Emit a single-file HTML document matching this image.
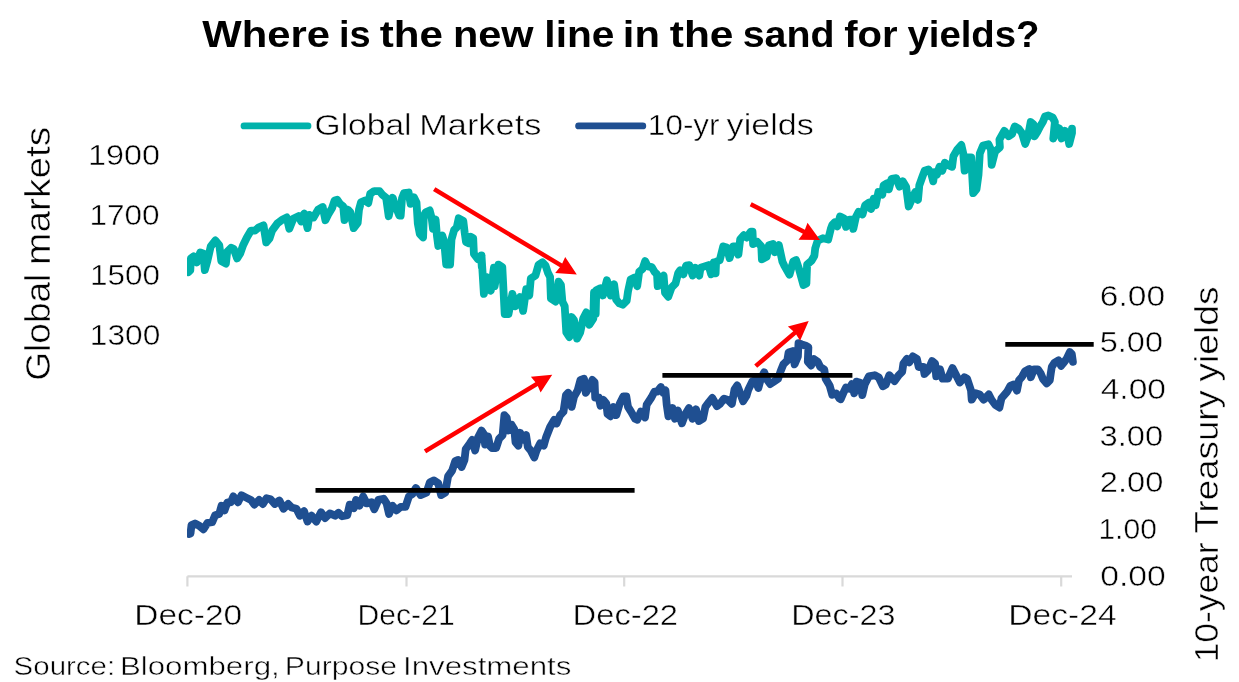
<!DOCTYPE html>
<html><head><meta charset="utf-8"><title>Where is the new line in the sand for yields?</title>
<style>html,body{margin:0;padding:0;background:#fff;}svg{display:block;} .r{stroke:#fff;stroke-width:0.5px;}</style></head>
<body><svg width="1239" height="682" viewBox="0 0 1239 682" font-family='"Liberation Sans", "DejaVu Sans", sans-serif' fill="#000">
<rect width="1239" height="682" fill="#fff"/>
<line x1="187.4" y1="576.3" x2="1072" y2="576.3" stroke="#D9D9D9" stroke-width="2.2"/><line x1="187.4" y1="576.3" x2="187.4" y2="586.5" stroke="#D9D9D9" stroke-width="2.2"/><line x1="406.5" y1="576.3" x2="406.5" y2="586.5" stroke="#D9D9D9" stroke-width="2.2"/><line x1="624.2" y1="576.3" x2="624.2" y2="586.5" stroke="#D9D9D9" stroke-width="2.2"/><line x1="842.5" y1="576.3" x2="842.5" y2="586.5" stroke="#D9D9D9" stroke-width="2.2"/><line x1="1061.2" y1="576.3" x2="1061.2" y2="586.5" stroke="#D9D9D9" stroke-width="2.2"/>
<clipPath id="pc"><rect x="187" y="0" width="900" height="600"/></clipPath><g clip-path="url(#pc)"><polyline points="188.3,272.2 190.3,270.2 190.9,258.4 193.6,256.4 196.9,262.3 200.2,252.4 203.5,253.7 204.8,270.2 207.4,261.0 210.7,246.5 215.4,240.5 219.3,245.2 221.3,261.0 225.9,263.6 227.2,251.8 231.2,247.8 233.8,249.1 237.1,258.4 240.4,253.1 243.1,245.2 247.0,237.2 251.0,230.6 255.0,230.6 258.9,227.3 263.5,225.4 266.2,242.5 269.5,238.6 272.1,230.6 277.4,223.4 282.7,219.4 286.7,217.4 289.3,228.7 293.3,218.8 298.5,216.1 301.2,221.4 303.8,214.1 304.2,213.6 307.5,228.1 309.5,214.9 313.5,217.5 318.1,209.6 322.7,207.0 325.4,220.2 328.7,213.6 332.0,208.3 334.6,200.4 337.2,199.7 339.9,203.7 343.2,206.3 344.5,220.2 347.8,209.6 350.4,212.2 353.7,228.1 357.7,222.8 359.0,209.6 361.0,202.3 365.0,200.4 368.3,203.0 370.2,193.8 374.2,191.1 379.5,191.1 382.1,194.4 386.1,197.7 388.7,216.2 392.7,197.7 395.3,205.6 399.3,215.5 400.7,215.6 402.0,198.5 404.0,193.2 408.6,192.5 410.6,203.8 413.9,197.2 416.5,202.4 417.8,223.5 419.8,234.1 423.1,237.4 423.8,215.6 425.7,212.3 429.7,210.4 431.7,218.3 433.0,228.8 435.6,219.6 436.9,235.4 438.3,246.0 442.2,235.4 444.2,242.0 446.2,264.5 450.1,264.5 451.5,239.4 454.1,230.1 456.7,227.5 458.7,218.3 463.3,220.9 464.7,232.8 466.0,242.0 468.6,243.3 470.6,236.7 473.2,238.1 473.9,253.9 477.9,259.2 481.2,257.9 481.8,267.1 481.5,255.4 483.9,293.9 486.9,277.0 490.8,290.8 493.9,267.7 494.6,286.2 498.5,264.7 502.3,267.0 504.7,314.0 508.5,314.0 512.4,293.9 515.4,306.3 520.1,297.0 523.1,310.9 526.2,289.3 529.3,295.5 530.8,278.5 535.5,275.4 538.6,264.7 542.4,262.3 545.5,265.4 547.8,272.4 550.1,277.0 550.9,298.6 555.5,301.6 558.6,281.6 560.9,284.7 562.4,301.6 564.7,306.3 566.3,332.4 569.4,337.1 571.7,317.0 574.0,320.1 577.1,338.6 580.2,332.4 583.2,318.6 586.3,312.4 589.4,324.7 593.3,318.6 594.0,292.4 595.7,313.9 596.3,290.2 600.3,288.2 602.9,295.4 606.9,280.3 610.8,295.4 614.1,284.2 616.1,299.4 619.4,303.4 622.7,304.7 626.7,300.7 628.0,291.5 630.6,279.6 634.6,277.6 637.2,286.2 639.2,271.7 642.5,269.0 645.2,261.1 647.8,266.4 651.8,267.1 654.4,271.7 657.0,274.3 657.7,286.2 661.0,278.3 663.6,275.6 665.0,292.8 668.3,296.8 671.6,287.5 675.5,283.6 678.2,273.0 680.1,270.4 683.4,274.3 686.1,265.7 689.4,265.1 692.7,275.6 695.3,267.7 699.3,275.6 700.6,267.7 704.6,266.4 708.5,265.1 711.2,274.3 713.8,262.4 715.6,273.3 716.1,261.6 719.7,260.4 723.2,246.4 726.7,247.5 729.6,258.1 733.2,246.4 736.1,246.4 738.4,254.6 740.2,239.3 743.7,235.2 746.6,237.6 750.7,231.7 752.5,231.7 753.1,244.0 757.2,241.7 761.3,246.4 761.9,259.3 766.6,256.9 768.9,245.2 773.0,244.0 774.8,252.2 778.9,245.2 782.4,261.6 784.4,265.9 789.5,274.7 793.2,261.5 796.1,260.1 799.0,268.9 803.4,285.0 806.4,283.5 807.1,264.5 811.5,260.8 814.4,255.7 815.2,248.4 817.6,240.8 822.9,238.2 828.2,239.5 830.8,228.9 832.2,225.0 834.8,222.3 837.4,226.3 840.1,216.4 844.0,218.4 846.0,226.9 849.3,219.7 852.6,219.7 853.3,228.9 855.9,217.0 858.6,211.8 862.5,214.4 865.2,205.2 869.1,202.5 871.1,209.1 873.7,198.6 875.7,205.2 878.4,192.0 882.3,194.6 883.6,185.4 886.9,183.4 888.9,189.3 891.6,178.8 896.2,178.1 899.5,186.7 902.8,181.4 906.1,186.7 908.7,206.5 912.7,197.2 915.3,192.0 918.0,199.9 919.3,185.4 922.6,176.1 924.6,170.8 928.5,169.5 931.2,173.5 933.2,181.4 934.5,172.2 936.9,174.7 939.5,166.8 942.2,170.7 944.8,162.8 948.8,165.4 952.1,166.8 953.4,156.2 957.3,149.6 961.3,145.0 963.3,153.6 964.6,170.7 967.2,157.5 971.2,157.5 973.2,193.2 976.5,189.2 978.5,174.7 979.8,153.6 983.1,145.6 988.4,144.3 991.0,149.6 991.7,164.9 995.0,151.7 999.9,147.3 999.4,139.6 1004.3,130.8 1008.7,136.3 1012.0,134.1 1014.8,126.4 1018.6,128.6 1021.9,133.0 1025.2,144.0 1028.0,136.3 1030.7,122.0 1033.5,124.2 1034.6,136.3 1037.3,131.9 1040.1,126.4 1042.8,122.0 1045.0,116.5 1048.3,115.4 1052.7,117.6 1054.9,122.0 1053.3,138.5 1057.1,127.5 1059.3,128.6 1061.5,138.5 1064.8,130.8 1067.0,133.0 1069.2,144.0 1072.0,133.0 1072.0,128.6" fill="none" stroke="#00B2AB" stroke-width="7.8" stroke-linejoin="round" stroke-linecap="round"/><polyline points="189.0,534.0 190.5,533.5 191.5,525.0 195.0,523.5 199.2,525.7 203.4,529.3 207.5,522.8 212.2,522.2 215.1,515.2 219.2,514.0 221.5,505.8 224.5,510.5 227.4,502.3 230.9,502.3 233.3,496.4 238.0,502.3 241.5,495.2 246.2,497.6 250.9,499.9 254.4,504.6 259.1,499.9 262.9,504.0 266.5,498.2 270.6,499.3 274.7,504.0 279.4,500.5 283.5,508.7 288.2,504.0 291.7,507.5 296.4,508.7 299.9,515.7 304.0,511.1 307.5,521.6 311.6,515.7 316.3,521.6 321.0,512.2 325.1,518.1 329.8,513.4 335.1,515.7 338.5,512.8 342.0,516.3 347.3,515.1 349.7,504.6 353.8,508.1 356.1,499.9 359.6,505.7 363.2,496.4 366.7,503.4 371.4,502.2 374.3,509.3 378.4,499.9 383.7,498.7 386.6,503.4 389.0,514.0 392.5,505.7 396.6,510.4 400.7,506.9 405.4,506.9 408.9,496.4 412.4,494.0 415.9,488.0 420.6,495.1 426.4,492.7 429.9,482.2 434.0,480.4 438.2,483.3 441.1,495.1 445.2,492.7 448.1,476.3 452.2,470.4 455.2,461.1 458.1,459.9 461.6,466.9 464.5,459.9 465.7,449.3 469.8,443.5 472.2,439.9 475.1,450.5 478.0,437.6 481.6,430.6 483.9,434.1 485.1,444.6 488.0,436.4 490.0,446.0 492.0,448.1 496.1,448.1 499.1,438.7 502.6,435.2 504.4,415.2 506.7,417.6 508.5,430.5 511.4,424.6 514.3,429.3 515.5,442.2 518.4,445.7 520.2,432.8 522.5,439.9 526.1,435.2 527.8,446.9 530.7,450.4 534.3,457.5 536.6,450.4 540.1,443.4 543.7,445.7 546.0,437.5 550.1,427.0 554.2,419.9 556.6,423.5 560.1,415.2 563.5,411.6 565.9,395.2 568.2,392.8 571.7,406.9 574.1,396.4 577.6,390.5 580.5,379.9 584.0,378.8 585.8,392.8 589.3,387.0 592.3,379.9 594.6,382.3 595.2,397.5 598.7,397.5 600.5,405.7 603.4,399.9 606.3,403.4 607.5,414.0 610.4,416.3 613.4,406.9 616.3,415.1 619.8,403.4 623.3,396.4 626.3,396.4 628.0,406.9 631.0,411.6 635.1,418.7 637.3,419.8 640.9,411.6 645.0,417.5 646.7,404.6 651.4,397.5 654.4,391.7 657.3,391.7 660.8,387.0 663.2,392.8 665.5,390.5 666.7,404.6 668.4,416.3 672.5,408.1 674.9,418.7 677.8,410.4 681.9,423.3 685.4,414.0 689.0,408.1 692.5,418.7 696.0,409.3 698.9,421.0 703.0,418.7 705.4,406.9 708.9,402.2 712.3,398.0 717.0,406.2 720.0,403.9 724.0,398.6 727.9,400.0 731.9,403.9 734.5,389.4 737.2,385.4 739.8,392.0 743.1,401.3 746.4,396.0 748.4,389.4 752.3,381.5 755.6,380.2 758.3,388.1 760.9,378.8 764.2,372.2 767.5,380.2 770.2,384.1 774.1,381.5 778.1,378.8 780.7,370.9 783.4,364.3 787.3,360.4 788.6,352.4 792.6,351.1 794.6,364.3 797.9,356.4 798.5,343.2 801.8,344.5 805.8,345.8 808.4,347.2 807.8,361.7 811.1,365.6 813.7,359.0 817.7,361.7 820.3,367.0 824.3,369.6 825.6,378.8 829.6,385.4 832.2,394.7 836.2,393.4 839.5,398.6 840.7,399.2 843.7,392.2 846.0,387.5 849.5,388.7 851.9,384.0 854.2,393.3 856.6,381.6 860.1,382.8 862.3,395.1 864.7,384.6 868.8,376.4 874.7,375.2 878.8,377.5 882.9,386.3 885.8,384.6 889.3,375.2 894.6,381.1 898.7,375.2 902.2,371.7 903.4,363.5 906.9,358.8 909.3,362.3 912.8,356.4 916.9,358.8 918.7,367.0 923.3,367.0 924.5,374.0 928.0,370.5 932.1,361.1 935.1,363.5 936.2,376.4 940.0,369.3 942.6,378.6 947.9,378.6 952.5,368.0 955.8,374.6 959.8,382.5 964.4,377.2 967.1,378.6 971.0,390.4 971.7,399.7 975.6,393.1 979.6,394.4 983.6,399.7 988.8,394.4 991.5,399.7 995.4,405.0 999.4,407.6 1001.5,398.2 1007.2,391.6 1010.3,385.9 1013.9,384.4 1016.9,390.6 1019.0,380.3 1022.1,376.7 1025.1,371.1 1029.2,369.0 1030.8,377.2 1033.9,369.5 1038.0,369.5 1040.5,373.1 1043.1,379.3 1046.7,383.4 1049.8,380.3 1050.8,373.1 1051.8,366.9 1054.4,362.8 1058.5,360.3 1061.1,365.9 1063.6,362.8 1066.7,358.7 1069.8,352.1 1071.8,354.1 1072.9,361.8" fill="none" stroke="#1F4F91" stroke-width="7.8" stroke-linejoin="round" stroke-linecap="round"/></g>
<line x1="315.5" y1="490.4" x2="634.6" y2="490.4" stroke="#000" stroke-width="4.9"/><line x1="662.4" y1="375.4" x2="852.4" y2="375.4" stroke="#000" stroke-width="4.9"/><line x1="1005.3" y1="344.4" x2="1093.7" y2="344.4" stroke="#000" stroke-width="4.9"/>
<polygon points="433.0,191.1 559.9,267.3 555.2,272.9 576.8,274.5 565.2,256.9 562.2,263.5 435.4,187.3" fill="#FF0000"/><polygon points="749.7,206.2 802.9,233.7 798.5,239.7 820.0,240.0 807.5,222.7 804.9,229.7 751.7,202.2" fill="#FF0000"/><polygon points="426.2,453.3 537.8,386.0 540.6,392.4 552.2,374.7 530.9,376.8 535.4,382.2 423.8,449.5" fill="#FF0000"/><polygon points="757.2,367.8 796.2,334.6 800.1,340.7 808.7,321.0 787.9,326.4 793.3,331.2 754.2,364.4" fill="#FF0000"/>
<line x1="244" y1="125.9" x2="308" y2="125.9" stroke="#00B2AB" stroke-width="6.8" stroke-linecap="round"/><line x1="578.6" y1="125.9" x2="642.8" y2="125.9" stroke="#1F4F91" stroke-width="6.8" stroke-linecap="round"/>
<text x="202.30" y="46.9" font-size="36.7" font-weight="bold" textLength="127.71" lengthAdjust="spacingAndGlyphs">Where</text><text x="339.05" y="46.9" font-size="36.7" font-weight="bold" textLength="31.62" lengthAdjust="spacingAndGlyphs">is</text><text x="379.68" y="46.9" font-size="36.7" font-weight="bold" textLength="63.18" lengthAdjust="spacingAndGlyphs">the</text><text x="452.90" y="46.9" font-size="36.7" font-weight="bold" textLength="80.69" lengthAdjust="spacingAndGlyphs">new</text><text x="544.35" y="46.9" font-size="36.7" font-weight="bold" textLength="70.08" lengthAdjust="spacingAndGlyphs">line</text><text x="622.88" y="46.9" font-size="36.7" font-weight="bold" textLength="37.07" lengthAdjust="spacingAndGlyphs">in</text><text x="669.78" y="46.9" font-size="36.7" font-weight="bold" textLength="63.70" lengthAdjust="spacingAndGlyphs">the</text><text x="742.73" y="46.9" font-size="36.7" font-weight="bold" textLength="91.79" lengthAdjust="spacingAndGlyphs">sand</text><text x="844.30" y="46.9" font-size="36.7" font-weight="bold" textLength="53.33" lengthAdjust="spacingAndGlyphs">for</text><text x="907.42" y="46.9" font-size="36.7" font-weight="bold" textLength="132.13" lengthAdjust="spacingAndGlyphs">yields?</text><text x="314.52" y="134.9" font-size="29.3" class="r" textLength="97.05" lengthAdjust="spacingAndGlyphs">Global</text><text x="419.25" y="134.9" font-size="29.3" class="r" textLength="122.09" lengthAdjust="spacingAndGlyphs">Markets</text><text x="647.88" y="134.6" font-size="29.3" class="r" textLength="71.70" lengthAdjust="spacingAndGlyphs">10-yr</text><text x="726.60" y="134.6" font-size="29.3" class="r" textLength="87.15" lengthAdjust="spacingAndGlyphs">yields</text><text x="88.06" y="164.9" font-size="30.0" class="r" textLength="71.98" lengthAdjust="spacingAndGlyphs">1900</text><text x="89.48" y="224.9" font-size="30.0" class="r" textLength="70.13" lengthAdjust="spacingAndGlyphs">1700</text><text x="89.99" y="284.9" font-size="30.0" class="r" textLength="69.92" lengthAdjust="spacingAndGlyphs">1500</text><text x="89.87" y="344.9" font-size="30.0" class="r" textLength="70.45" lengthAdjust="spacingAndGlyphs">1300</text><text x="1099.82" y="305.8" font-size="30.0" class="r" textLength="65.30" lengthAdjust="spacingAndGlyphs">6.00</text><text x="1099.80" y="352.4" font-size="30.0" class="r" textLength="63.18" lengthAdjust="spacingAndGlyphs">5.00</text><text x="1100.73" y="399.0" font-size="30.0" class="r" textLength="65.29" lengthAdjust="spacingAndGlyphs">4.00</text><text x="1099.59" y="445.7" font-size="30.0" class="r" textLength="63.70" lengthAdjust="spacingAndGlyphs">3.00</text><text x="1099.77" y="492.3" font-size="30.0" class="r" textLength="63.52" lengthAdjust="spacingAndGlyphs">2.00</text><text x="1098.40" y="538.9" font-size="30.0" class="r" textLength="58.50" lengthAdjust="spacingAndGlyphs">1.00</text><text x="1100.25" y="585.5" font-size="30.0" class="r" textLength="65.57" lengthAdjust="spacingAndGlyphs">0.00</text><text x="134.32" y="624.8" font-size="30.0" class="r" textLength="107.94" lengthAdjust="spacingAndGlyphs">Dec-20</text><text x="357.49" y="624.8" font-size="30.0" class="r" textLength="97.23" lengthAdjust="spacingAndGlyphs">Dec-21</text><text x="572.58" y="624.8" font-size="30.0" class="r" textLength="105.48" lengthAdjust="spacingAndGlyphs">Dec-22</text><text x="791.21" y="624.8" font-size="30.0" class="r" textLength="104.20" lengthAdjust="spacingAndGlyphs">Dec-23</text><text x="1008.20" y="624.8" font-size="30.0" class="r" textLength="108.63" lengthAdjust="spacingAndGlyphs">Dec-24</text><text x="13.63" y="675.0" font-size="25.9" class="r" textLength="101.51" lengthAdjust="spacingAndGlyphs">Source:</text><text x="119.90" y="675.0" font-size="25.9" class="r" textLength="159.84" lengthAdjust="spacingAndGlyphs">Bloomberg,</text><text x="284.89" y="675.0" font-size="25.9" class="r" textLength="112.15" lengthAdjust="spacingAndGlyphs">Purpose</text><text x="403.09" y="675.0" font-size="25.9" class="r" textLength="168.30" lengthAdjust="spacingAndGlyphs">Investments</text><text transform="rotate(-90)" x="-380.75" y="49.8" font-size="34.6" class="r" textLength="107.07" lengthAdjust="spacingAndGlyphs">Global</text><text transform="rotate(-90)" x="-264.92" y="49.8" font-size="34.6" class="r" textLength="138.13" lengthAdjust="spacingAndGlyphs">markets</text><text transform="rotate(-90)" x="-662.33" y="1217.5" font-size="34.0" class="r" textLength="119.86" lengthAdjust="spacingAndGlyphs">10-year</text><text transform="rotate(-90)" x="-533.43" y="1217.5" font-size="34.0" class="r" textLength="143.24" lengthAdjust="spacingAndGlyphs">Treasury</text><text transform="rotate(-90)" x="-381.50" y="1217.5" font-size="34.0" class="r" textLength="94.96" lengthAdjust="spacingAndGlyphs">yields</text>
</svg></body></html>
